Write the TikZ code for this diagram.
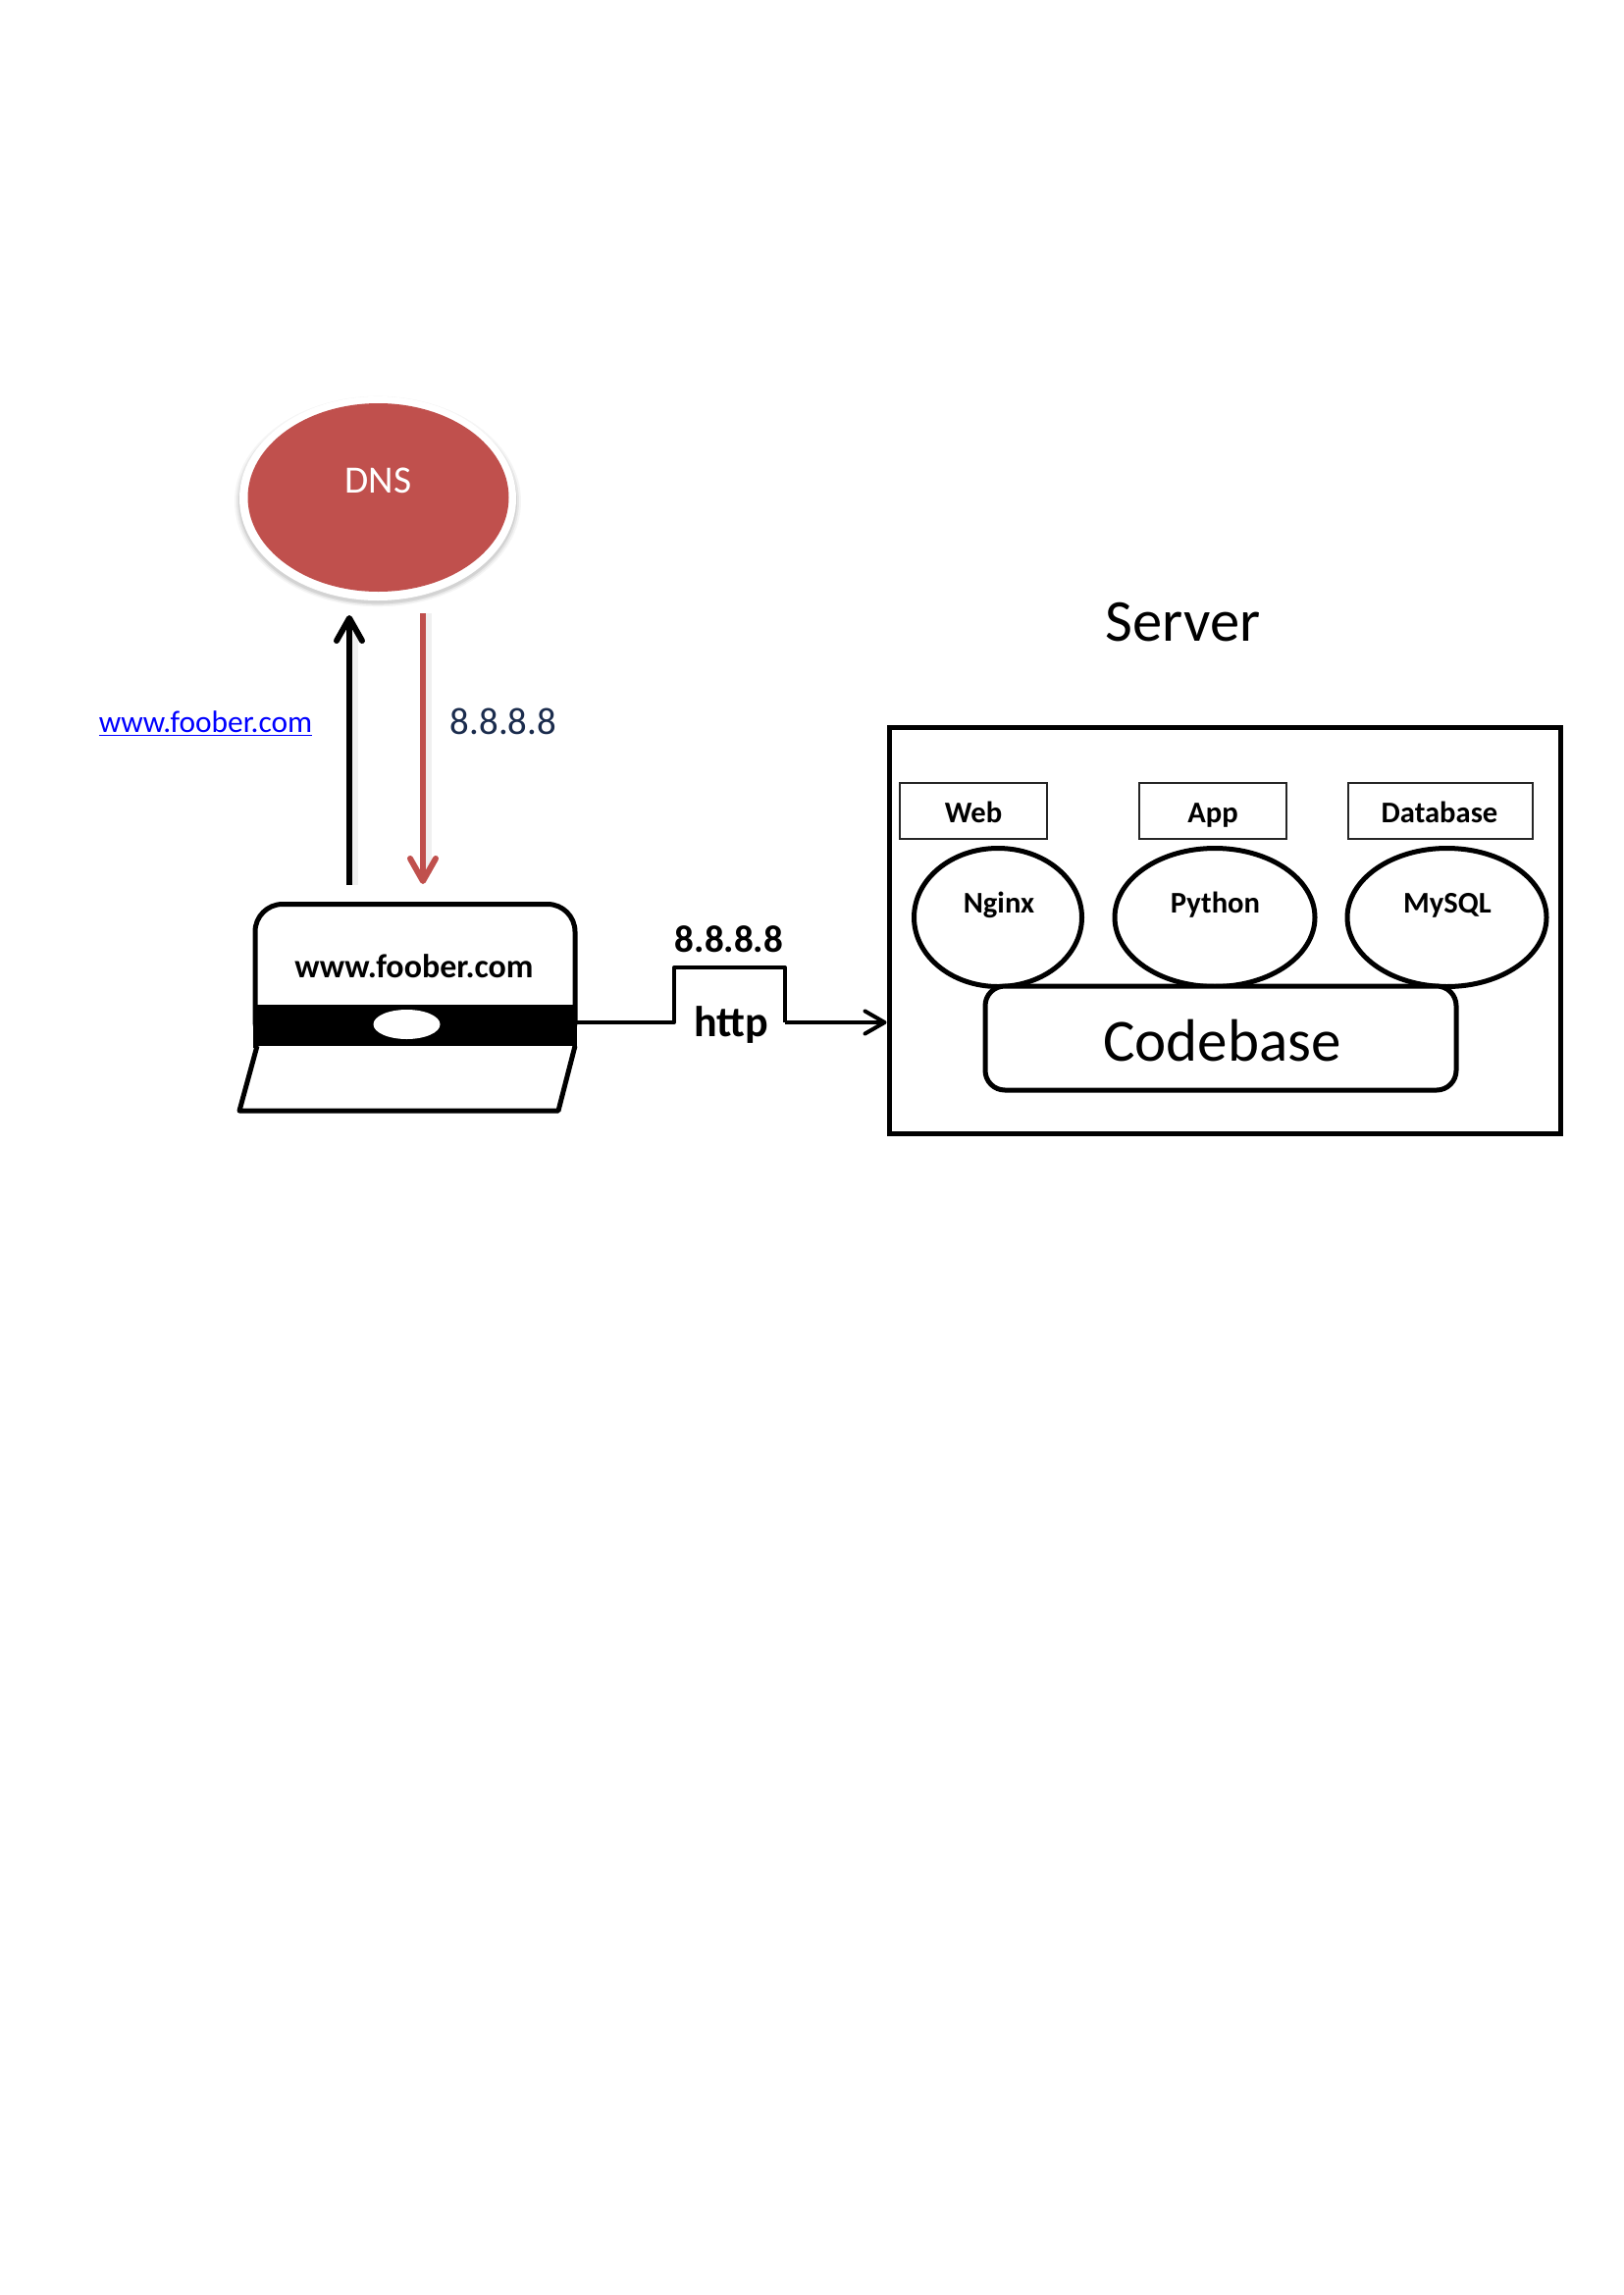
\documentclass[tikz,border=0pt]{standalone}
\usepackage{fontspec}
\setmainfont{Carlito}
\usetikzlibrary{arrows.meta,shapes.geometric,positioning}
\definecolor{dnsred}{HTML}{C0504D}
\definecolor{navytext}{HTML}{1B2C4D}
\newcommand{\fsz}[1]{\fontsize{#1pt}{#1pt}\selectfont}
\tikzset{
  heavy/.style={draw=black,line width=2.5pt,fill=white,inner sep=0pt},
  labelbox/.style={draw=black!85,line width=0.6pt,fill=white,inner sep=0pt},
  txt/.style={anchor=base,inner sep=0pt,text=black},
  oval/.style={heavy,ellipse},
  dnsarrow/.style={line width=3pt,-{Straight Barb[length=11.5pt,width=13pt,line cap=round,round]}},
  softshadow/.style={line width=4pt,draw=black,draw opacity=0.06,-}
}
\begin{document}
\begin{tikzpicture}[x=0.5pt,y=-0.5pt]
\useasboundingbox (0,0) rectangle (1654,2339);
\fill[white] (0,0) rectangle (1654,2339);

% DNS
\foreach \g/\o in {146/0.04,144/0.06,142/0.08}{
  \fill[black,opacity=\o] (385,511) ellipse [x radius=\g,y radius=\g*0.735];
}
\node[ellipse,fill=white,minimum width=141pt,minimum height=104pt,inner sep=0pt] (dnshalo) at (385,508) {};
\node[ellipse,fill=dnsred,minimum width=133pt,minimum height=96pt,inner sep=0pt] (dns) at (385.5,507) {};
\node[txt,text=white,font=\fsz{19.7}] (dnstext) at (385.5,502.5) {DNS};

% Laptop
\node[heavy,rounded corners=14pt,minimum width=163pt,minimum height=73.5pt] (screen) at (423,995) {};
\node[fill=black,minimum width=165pt,minimum height=22pt,inner sep=0pt] (bar) at (423,1045.5) {};
\node[ellipse,fill=white,minimum width=34pt,minimum height=15pt,inner sep=0pt] (lens) at (414.5,1044) {};
\coordinate (baseTL) at (262,1066);
\coordinate (baseBL) at (244,1132);
\coordinate (baseBR) at (569,1132);
\coordinate (baseTR) at (586,1066);
\draw[line width=2.5pt,line join=round,fill=white] (baseTL) -- (baseBL) -- (baseBR) -- (baseTR);
\node[txt,font=\fsz{17}\bfseries] (laptext) at (422,996) {www.foober.com};

% DNS arrows
\coordinate (blackfrom) at (356,902);
\coordinate (blackto) at (356,627);
\coordinate (redfrom) at (431,625);
\coordinate (redto) at (431,901);
\coordinate (blacksf) at (361,902);
\coordinate (blackst) at (361,640);
\coordinate (redsf) at (436,625);
\coordinate (redst) at (436,890);
\draw[softshadow] (blacksf) -- (blackst);
\draw[softshadow] (redsf) -- (redst);
\draw[dnsarrow,draw=black] (blackfrom) -- (blackto);
\draw[dnsarrow,draw=dnsred] (redfrom) -- (redto);
\node[txt,text=blue,font=\fsz{15.7}] (urltext) at (209.5,746.5) {\underline{www.foober.com}};
\node[txt,text=navytext,font=\fsz{19.4}] (iptext) at (513,748) {8.8.8.8};

% Server
\node[txt,font=\fsz{30.3}] (servertext) at (1205.5,653) {Server};
\node[draw=black,line width=2.5pt,fill=white,inner sep=0pt,minimum width=342pt,minimum height=207pt] (server) at (1248,948.5) {};
\node[labelbox,minimum width=75pt,minimum height=28.5pt] (webbox) at (992,826.5) {};
\node[labelbox,minimum width=75pt,minimum height=28.5pt] (appbox) at (1236,826.5) {};
\node[labelbox,minimum width=94pt,minimum height=28.5pt] (dbbox) at (1468,826.5) {};
\node[txt,font=\fsz{15.3}\bfseries] (webtext) at (992,838) {Web};
\node[txt,font=\fsz{15.3}\bfseries] (apptext) at (1236,838) {App};
\node[txt,font=\fsz{15.3}\bfseries] (dbtext) at (1467,838) {Database};
\node[oval,minimum width=85.5pt,minimum height=70.5pt] (nginx) at (1017,935) {};
\node[oval,minimum width=102pt,minimum height=70.5pt] (python) at (1238,935) {};
\node[oval,minimum width=101.5pt,minimum height=70.5pt] (mysql) at (1474.5,935) {};
\node[txt,font=\fsz{15.3}\bfseries] (nginxtext) at (1018,930) {Nginx};
\node[txt,font=\fsz{15.3}\bfseries] (pythontext) at (1238.5,930) {Python};
\node[txt,font=\fsz{15.3}\bfseries] (mysqltext) at (1475,930) {MySQL};
\node[heavy,rounded corners=10pt,minimum width=240pt,minimum height=53pt] (codebase) at (1244,1058) {};
\node[txt,font=\fsz{30.5}] (codetext) at (1245.5,1081.5) {Codebase};

% http link
\coordinate (linkA) at (bar.east |- 0,1042);
\coordinate (linkB) at (687,1042);
\coordinate (linkC) at (687,986);
\coordinate (linkD) at (800,986);
\coordinate (linkE) at (800,1042);
\draw[line width=2pt,line join=round] (linkA) -- (linkB) -- (linkC) -- (linkD) -- (linkE);
\draw[line width=2pt,-{Straight Barb[length=10pt,width=11.5pt,line cap=round,round]}] (linkE) -- (server.west |- linkE);
\node[txt,font=\fsz{19.5}\bfseries] (linkip) at (743,970.5) {8.8.8.8};
\node[txt,font=\fsz{22}\bfseries] (linkhttp) at (745,1056) {http};
\end{tikzpicture}
\end{document}
